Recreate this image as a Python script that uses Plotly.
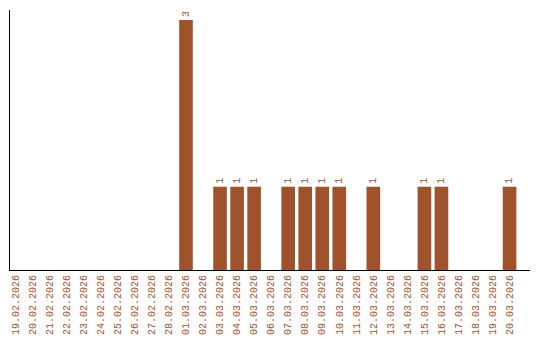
import plotly.graph_objects as go

dates = ["19.02.2026", "20.02.2026", "21.02.2026", "22.02.2026", "23.02.2026",
         "24.02.2026", "25.02.2026", "26.02.2026", "27.02.2026", "28.02.2026",
         "01.03.2026", "02.03.2026", "03.03.2026", "04.03.2026", "05.03.2026",
         "06.03.2026", "07.03.2026", "08.03.2026", "09.03.2026", "10.03.2026",
         "11.03.2026", "12.03.2026", "13.03.2026", "14.03.2026", "15.03.2026",
         "16.03.2026", "17.03.2026", "18.03.2026", "19.03.2026", "20.03.2026"]
counts = [0, 0, 0, 0, 0, 0, 0, 0, 0, 0,
          3, 0, 1, 1, 1, 0, 1, 1, 1, 1,
          0, 1, 0, 0, 1, 1, 0, 0, 0, 1]

color = "#a0522d"
labels = [str(v) if v > 0 else "" for v in counts]

fig = go.Figure(go.Bar(
    x=dates, y=counts, marker_color=color, marker_line_width=0,
    text=labels, textposition="outside", textangle=-90,
    textfont=dict(family="Liberation Mono", size=10, color=color),
    cliponaxis=False,
))
fig.update_layout(
    width=540, height=340, margin=dict(l=10, r=10, t=10, b=70),
    plot_bgcolor="white", paper_bgcolor="white", showlegend=False,
    bargap=0.2,
    uniformtext=dict(minsize=6, mode="show"),
)
fig.update_xaxes(type="category", tickangle=-90, showline=True, linecolor="black",
                 linewidth=1, ticks="", showgrid=False, automargin=False,
                 range=[-0.335, 30.2],
                 tickfont=dict(family="Liberation Mono", size=10, color=color))
fig.update_yaxes(range=[0, 3.12], showline=True, linecolor="black", linewidth=1,
                 showticklabels=False, ticks="", showgrid=False, zeroline=False,
                 automargin=False)
fig.write_html("out.html")
